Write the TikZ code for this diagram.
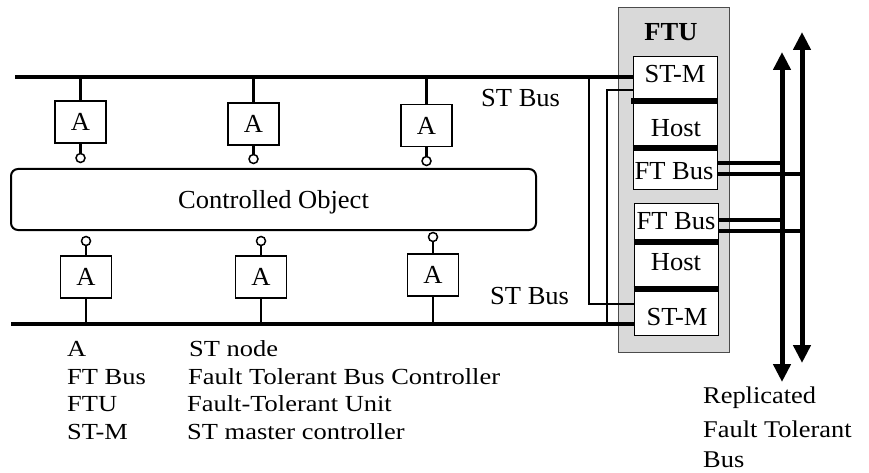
\documentclass[tikz,border=0pt]{standalone}
\usepackage{fontspec}
\setmainfont{Liberation Serif}
\newfontfamily\labf[FakeStretch=1.02]{Liberation Serif}
\newfontfamily\legf[FakeStretch=1.15]{Liberation Serif}
\newfontfamily\repf[FakeStretch=1.1]{Liberation Serif}
\usetikzlibrary{arrows.meta}
\begin{document}
\begin{tikzpicture}[x=1pt,y=-1pt,
  lab/.style={font=\labf\fontsize{26}{30}\selectfont, inner sep=0pt},
  leg/.style={font=\legf\fontsize{23}{27}\selectfont, inner sep=0pt, anchor=base west},
  rep/.style={font=\repf\fontsize{24}{28}\selectfont, inner sep=0pt, anchor=base west},
  anode/.style={draw, line width=1.6pt, minimum width=51pt, minimum height=42pt, inner sep=0pt, lab},
  bus/.style={line width=3.8pt},
  stem/.style={line width=2.4pt},
  port/.style={circle, draw, line width=1.5pt, minimum size=9pt, inner sep=0pt},
  thickbar/.style={line width=6pt},
  wire/.style={line width=2.5pt},
  ftwire/.style={line width=3.5pt},
  bigarrow/.style={line width=5pt, {Triangle[width=17pt,length=18pt]}-{Triangle[width=17pt,length=18pt]}},
  colbox/.style={draw, fill=white, line width=1pt, inner sep=0pt, minimum width=84pt, minimum height=132pt}
]
\useasboundingbox (0,0) rectangle (869,473);

% FTU
\node[draw=gray!60!black, fill=gray!30, line width=1pt, minimum width=111pt, minimum height=344pt, inner sep=0pt] (ftu) at (673.5,180) {};
\node[lab, anchor=base] (ftutitle) at (671,41) {\bfseries FTU};
\node[colbox] (col1) at (675,123) {};
\node[colbox] (col2) at (676,269) {};
\draw[thickbar] (631,101) -- (col1.east |- 0,101);
\draw[thickbar] (col1.west |- 0,148) -- (col1.east |- 0,148);
\draw[thickbar] (col2.west |- 0,242) -- (col2.east |- 0,242);
\draw[thickbar] (col2.west |- 0,289) -- (col2.east |- 0,289);
\node[lab, anchor=base] (stm1) at (675,83) {ST-M};
\node[lab, anchor=base] (host1) at (676,137) {Host};
\node[lab, anchor=base] (ftb1) at (674,179) {FT Bus};
\node[lab, anchor=base] (ftb2) at (676,229) {FT Bus};
\node[lab, anchor=base] (host2) at (676,270) {Host};
\node[lab, anchor=base] (stm2) at (677,325) {ST-M};

% buses
\coordinate (tb) at (15,77);
\coordinate (bb) at (11,324);
\draw[bus] (tb) -- (col1.west |- tb);
\draw[bus] (bb) -- (col2.west |- bb);
\coordinate (j1) at (589,77);
\coordinate (j2) at (607,90);
\draw[wire] (j1) -- (589,304) -- (col2.west |- 0,304);
\draw[wire] (col1.west |- j2) -- (j2) -- (j2 |- bb);
\node[lab, anchor=base west] (stbus1) at (481,107) {ST Bus};
\node[lab, anchor=base west] (stbus2) at (490,304) {ST Bus};

% replicated bus
\coordinate (aLt) at (782,52);
\coordinate (aLb) at (782,382);
\coordinate (aRt) at (802,32);
\coordinate (aRb) at (802,363);
\draw[bigarrow] (aLb) -- (aLt);
\draw[bigarrow] (aRb) -- (aRt);
\draw[ftwire] (col1.east |- 0,163) -- (aLt |- 0,163);
\draw[ftwire] (col1.east |- 0,174) -- (aRt |- 0,174);
\draw[ftwire] (col2.east |- 0,220) -- (aLt |- 0,220);
\draw[ftwire] (col2.east |- 0,231) -- (aRt |- 0,231);
\node[rep] (r1) at (703,403) {Replicated};
\node[rep] (r2) at (703,437) {Fault Tolerant};
\node[rep] (r3) at (703,467) {Bus};

% controlled object
\node[draw, line width=2pt, rounded corners=7pt, minimum width=525pt, minimum height=61pt, inner sep=0pt, lab, text depth=0pt] (co) at (273.5,199.5) {Controlled Object};

% top A nodes
\node[anode] (a1) at (80.5,122) {A};
\node[anode] (a2) at (253.5,124) {A};
\node[anode] (a3) at (426.5,125.5) {A};
\foreach \n/\py in {a1/158,a2/159,a3/161}{
  \draw[stem] (\n.north |- tb) -- (\n.north);
  \node[port] (\n p) at (\n.south |- 0,\py) {};
  \draw[stem] (\n.south) -- (\n p.north);
}
% bottom A nodes
\node[anode] (b1) at (86,277) {A};
\node[anode] (b2) at (261,277) {A};
\node[anode] (b3) at (433,275) {A};
\foreach \n/\py in {b1/241,b2/241,b3/237}{
  \draw[stem] (\n.south) -- (\n.south |- bb);
  \node[port] (\n p) at (\n.north |- 0,\py) {};
  \draw[stem] (\n p.south) -- (\n.north);
}

% legend
\node[leg] (l1a) at (67,356) {A};
\node[leg] (l1b) at (189,356) {ST node};
\node[leg] (l2a) at (67,384) {FT Bus};
\node[leg] (l2b) at (188,384) {Fault Tolerant Bus Controller};
\node[leg] (l3a) at (67,411) {FTU};
\node[leg] (l3b) at (187,411) {Fault-Tolerant Unit};
\node[leg] (l4a) at (67,439) {ST-M};
\node[leg] (l4b) at (187,439) {ST master controller};
\end{tikzpicture}
\end{document}
